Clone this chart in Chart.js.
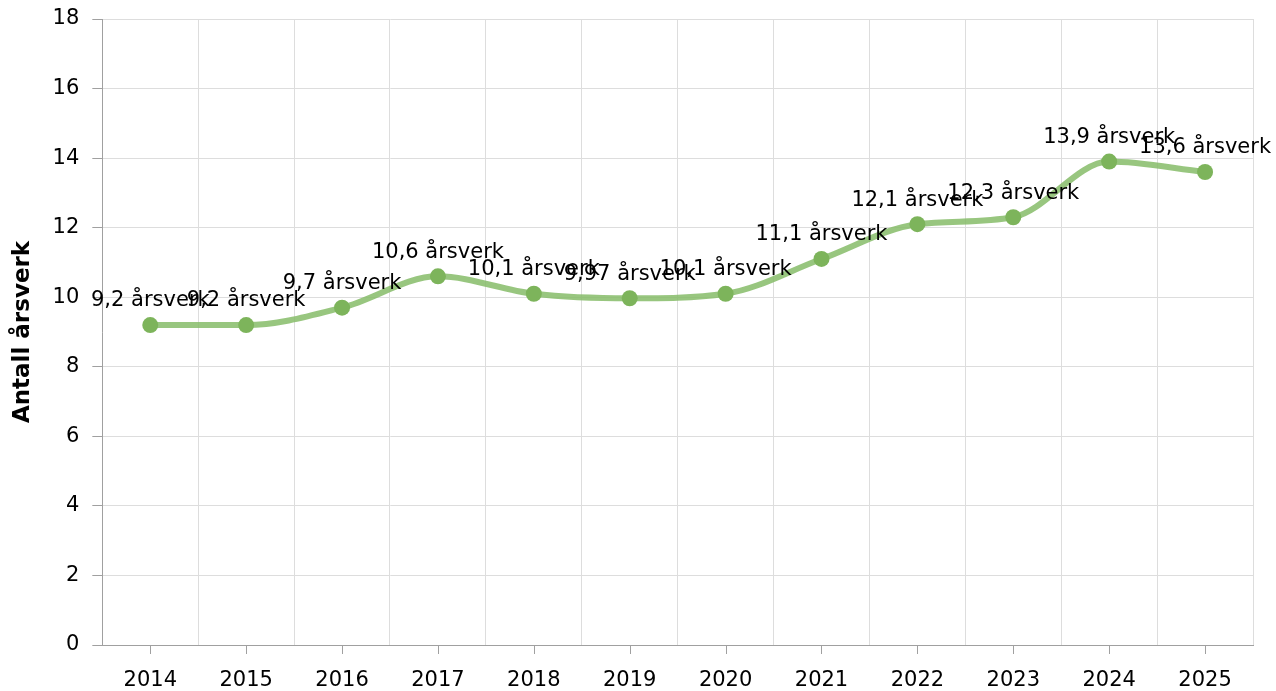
<!DOCTYPE html>
<html>
<head>
<meta charset="utf-8">
<script src="https://cdn.jsdelivr.net/npm/chart.js@4"></script>
<style>
  body { margin: 0; background: #fff; }
  #wrap { width: 1276px; height: 691px; }
</style>
</head>
<body>
<div id="wrap"><canvas id="arsverkChart"></canvas></div>
<script>
const years = ['2014', '2015', '2016', '2017', '2018', '2019', '2020', '2021', '2022', '2023', '2024', '2025'];
const arsverk = [9.2, 9.2, 9.7, 10.6, 10.1, 9.97, 10.1, 11.1, 12.1, 12.3, 13.9, 13.6];
const yTicks = [0, 2, 4, 6, 8, 10, 12, 14, 16, 18];
const yTitle = 'Antall årsverk';
const unit = 'årsverk';

const FONT = 'DejaVu Sans, Verdana, sans-serif';

// tick marks at category centres + value labels above points
const extras = {
    id: 'extras',
    afterDatasetsDraw(chart) {
        const ctx = chart.ctx;
        const x = chart.scales.x;
        const bottom = chart.chartArea.bottom;
        ctx.save();
        ctx.strokeStyle = '#a0a0a0';
        ctx.lineWidth = 1;
        years.forEach((y, i) => {
            const px = Math.round(x.getPixelForValue(i)) + 0.5;
            ctx.beginPath();
            ctx.moveTo(px, bottom);
            ctx.lineTo(px, bottom + 9);
            ctx.stroke();
        });

        ctx.font = '21px ' + FONT;
        ctx.fillStyle = '#000';
        ctx.textAlign = 'center';
        ctx.textBaseline = 'middle';
        chart.getDatasetMeta(0).data.forEach((pt, i) => {
            const txt = String(arsverk[i]).replace('.', ',') + ' ' + unit;
            ctx.fillText(txt, pt.x, pt.y - 24);
        });
        ctx.restore();
    }
};

new Chart(document.getElementById('arsverkChart'), {
    type: 'line',
    data: {
        labels: years,
        datasets: [{
            data: arsverk,
            borderColor: 'rgba(134, 188, 104, 0.85)',
            borderWidth: 6,
            cubicInterpolationMode: 'monotone',
            pointRadius: 8,
            pointHoverRadius: 8,
            pointBackgroundColor: '#7db45b',
            pointBorderColor: '#7db45b',
            pointBorderWidth: 0
        }]
    },
    options: {
        responsive: true,
        maintainAspectRatio: false,
        animation: false,
        layout: { padding: { top: 19, right: 23, left: 9, bottom: 0 } },
        plugins: {
            legend: { display: false },
            tooltip: { enabled: false }
        },
        scales: {
            x: {
                offset: true,
                afterFit: (scale) => { scale.height = 46; },
                grid: { offset: true, color: '#dddddd', drawTicks: false },
                border: { color: '#a0a0a0' },
                ticks: { color: '#000', padding: 23, font: { family: FONT, size: 21 } }
            },
            y: {
                min: 0,
                max: 18,
                afterBuildTicks: (scale) => { scale.ticks = yTicks.map(v => ({ value: v })); },
                afterFit: (scale) => { scale.paddingTop = 0; scale.paddingBottom = 0; },
                grid: { color: '#dddddd', tickColor: '#a0a0a0', tickLength: 10 },
                border: { color: '#a0a0a0' },
                ticks: { color: '#000', padding: 13, font: { family: FONT, size: 21 } },
                title: {
                    display: true,
                    text: yTitle,
                    color: '#000',
                    padding: { top: 0, bottom: 3 },
                    font: { family: FONT, size: 23, weight: 'bold' }
                }
            }
        }
    },
    plugins: [extras]
});
</script>
</body>
</html>
